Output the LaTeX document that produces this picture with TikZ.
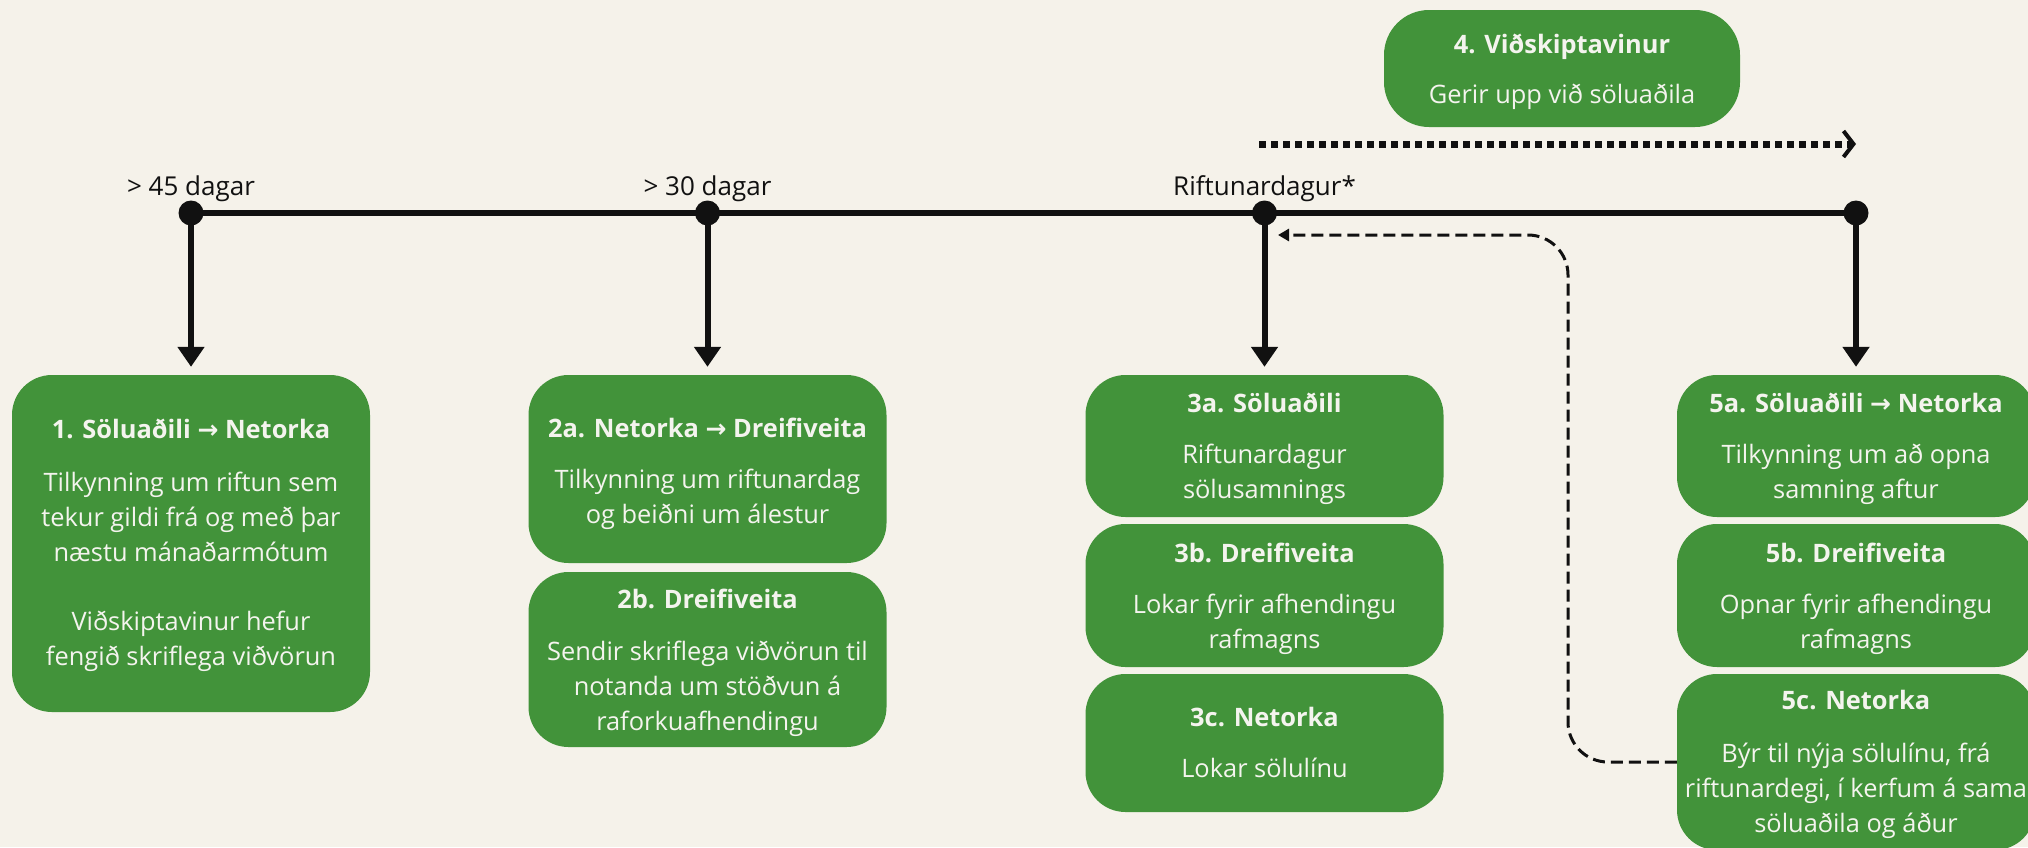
\documentclass[tikz,border=0pt]{standalone}
\usepackage{fontspec}
\setmainfont{Open Sans}
\newfontfamily\arrowfont{DejaVu Sans}
\usetikzlibrary{arrows.meta}
\definecolor{bg}{HTML}{F5F2EA}
\definecolor{boxgreen}{HTML}{42933A}
\definecolor{boxtext}{HTML}{F4F4EE}
\definecolor{ink}{HTML}{111111}
\newcommand{\fstrut}{\rule{0pt}{20.3pt}}
\newcommand{\rarr}{{\arrowfont\fontsize{25}{25}\selectfont →}}
\begin{document}
\begin{tikzpicture}[x=1pt,y=-1pt,
  card/.style={fill=boxgreen, rounded corners=40pt, inner sep=0pt, minimum width=358pt},
  ttl/.style={anchor=base, text=boxtext, inner sep=0pt, font=\fontsize{25.4}{34.7}\selectfont\bfseries},
  bdy/.style={anchor=north, align=center, text=boxtext, inner sep=0pt, font=\fontsize{25.4}{34.9}\selectfont},
  lab/.style={anchor=base, text=ink, inner sep=0pt, font=\fontsize{26}{30}\selectfont},
  tdot/.style={circle, fill=ink, minimum size=25pt, inner sep=0pt},
  down/.style={draw=ink, line width=6pt, -{Triangle[width=26pt,length=20pt]}},
  dotline/.style={draw=ink, line width=7pt, dash pattern=on 7pt off 5pt, -{Straight Barb[length=10pt,width=26pt,line width=4pt]}},
  ret/.style={draw=ink, line width=3pt, dash pattern=on 12pt off 6pt, rounded corners=40pt, -{Triangle[length=11pt,width=12pt]}}
]
\useasboundingbox (0,0) rectangle (2028,847);
\fill[bg] (0,0) rectangle (2028,847);
\clip (0,0) rectangle (2028,847);

% boxes
\node[card, minimum height=337pt] (b1) at (191,543.5) {};
\node[card, minimum height=188pt] (b2a) at (707.5,469) {};
\node[card, minimum height=175pt] (b2b) at (707.5,659.5) {};
\node[card, minimum height=142pt] (b3a) at (1264.5,446) {};
\node[card, minimum height=143pt] (b3b) at (1264.5,595.5) {};
\node[card, minimum height=138pt] (b3c) at (1264.5,743) {};
\node[card, minimum height=142pt] (b5a) at (1856,446) {};
\node[card, minimum height=143pt] (b5b) at (1856,595.5) {};
\node[card, minimum height=176pt] (b5c) at (1856,762) {};
\node[card, minimum width=356pt, minimum height=117pt, rounded corners=45pt] (b4) at (1562,68.5) {};

% box texts
\node[ttl] (t1) at (191,438) {1. Söluaðili \rarr\ Netorka};
\node[bdy] (x1) at (191,470.7) {\fstrut Tilkynning um riftun sem\\tekur gildi frá og með þar\\næstu mánaðarmótum\\[34.9pt]Viðskiptavinur hefur\\fengið skriflega viðvörun};
\node[ttl] (t2a) at (707.5,437) {2a. Netorka \rarr\ Dreifiveita};
\node[bdy] (x2a) at (707.5,467.7) {\fstrut Tilkynning um riftunardag\\og beiðni um álestur};
\node[ttl] (t2b) at (707.5,608) {2b. Dreifiveita};
\node[bdy] (x2b) at (707.5,639.7) {\fstrut Sendir skriflega viðvörun til\\notanda um stöðvun á\\raforkuafhendingu};
\node[ttl] (t3a) at (1264.5,412) {3a. Söluaðili};
\node[bdy] (x3a) at (1264.5,443) {\fstrut Riftunardagur\\sölusamnings};
\node[ttl] (t3b) at (1264.5,562) {3b. Dreifiveita};
\node[bdy] (x3b) at (1264.5,592.7) {\fstrut Lokar fyrir afhendingu\\rafmagns};
\node[ttl] (t3c) at (1264.5,726) {3c. Netorka};
\node[bdy] (x3c) at (1264.5,756.7) {\fstrut Lokar sölulínu};
\node[ttl] (t4) at (1562,53) {4. Viðskiptavinur};
\node[bdy] (x4) at (1562,82.7) {\fstrut Gerir upp við söluaðila};
\node[ttl] (t5a) at (1856,412) {5a. Söluaðili \rarr\ Netorka};
\node[bdy] (x5a) at (1856,443) {\fstrut Tilkynning um að opna\\samning aftur};
\node[ttl] (t5b) at (1856,562) {5b. Dreifiveita};
\node[bdy] (x5b) at (1856,592.7) {\fstrut Opnar fyrir afhendingu\\rafmagns};
\node[ttl] (t5c) at (1856,709) {5c. Netorka};
\node[bdy] (x5c) at (1856,741.7) {\fstrut Býr til nýja sölulínu, frá\\riftunardegi, í kerfum á sama\\söluaðila og áður};

% timeline
\node[tdot] (d1) at (191,213) {};
\node[tdot] (d2) at (707.5,213) {};
\node[tdot] (d3) at (1264.5,213) {};
\node[tdot] (d4) at (1856,213) {};
\draw[ink, line width=6.5pt] (d1.center) -- (d4.center);
\node[lab] (l1) at (191,195) {> 45 dagar};
\node[lab] (l2) at (707.5,195) {> 30 dagar};
\node[lab] (l3) at (1264.5,195) {Riftunardagur*};

\draw[down] (d1.center) -- ([yshift=8pt]b1.north);
\draw[down] (d2.center) -- ([yshift=8pt]b2a.north);
\draw[down] (d3.center) -- ([yshift=8pt]b3a.north);
\draw[down] (d4.center) -- ([yshift=8pt]b5a.north);

% dotted arrow under box 4
\coordinate (ds) at (1259,144);
\coordinate (de) at (1856,144);
\draw[dotline] (ds) -- (de);

% dashed return arrow
\coordinate (rt) at (1278,235);
\draw[ret] (b5c.west) -- (1568,762) -- (1568,235) -- (rt);
\end{tikzpicture}
\end{document}
